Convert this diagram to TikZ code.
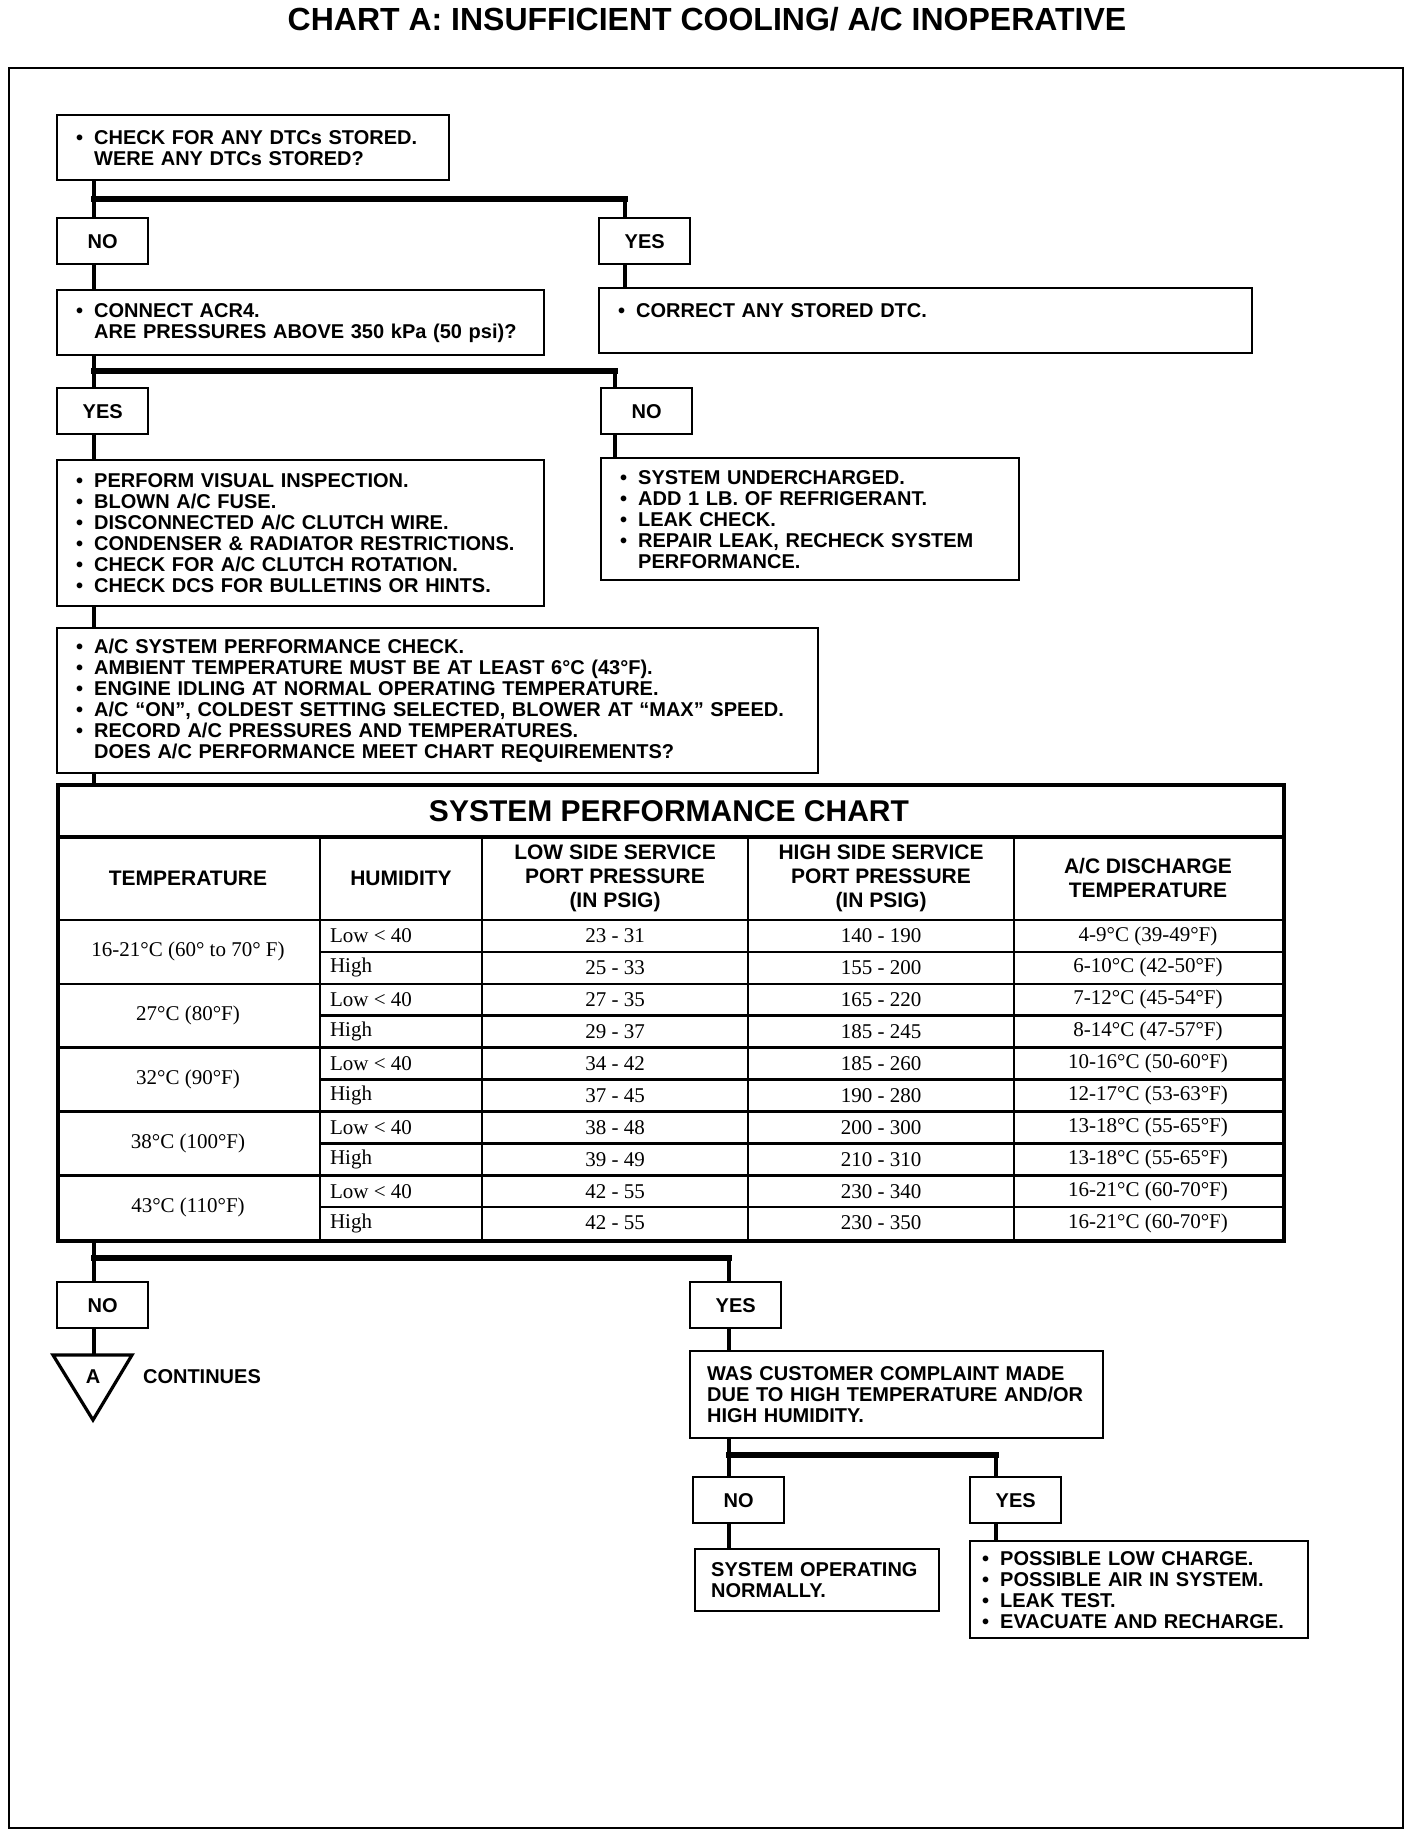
\documentclass[tikz,border=0pt]{standalone}
\usepackage{fontspec}
\setmainfont{Liberation Sans}
\newfontfamily\tabfont{Liberation Serif}
\newcommand{\bl}{\makebox[9pt][l]{\textbullet}}
\newcommand{\ind}{\hspace*{9pt}}
\begin{document}
\begin{tikzpicture}[x=0.5pt,y=-0.5pt,
    flowbox/.style={draw,line width=1.2pt,anchor=north west,align=left,inner xsep=9.5pt,inner ysep=0pt,font=\bfseries\fontsize{10}{10.5}\selectfont},
    answer/.style={draw,line width=1.2pt,anchor=north west,minimum width=45.5pt,minimum height=23pt,inner sep=0pt,font=\bfseries\fontsize{10}{12}\selectfont},
    vline/.style={line width=2pt},
    hline/.style={line width=2.8pt,line cap=rect},
    tabline/.style={line width=1.3pt},
    head/.style={align=center,font=\bfseries\fontsize{10.5}{12}\selectfont},
    cell/.style={font=\tabfont\fontsize{10.5}{12}\selectfont}]
  \useasboundingbox (0,0) rectangle (1424,1838);
  \node[font=\bfseries\fontsize{16}{18}\selectfont] (title) at (707,19) {CHART A: INSUFFICIENT COOLING/ A/C INOPERATIVE};
  \draw[line width=1.1pt] (9,68) rectangle (1403,1828);
  \node[flowbox,text width=177pt,minimum height=32.5pt] (dtc) at (56,114) {\bl CHECK FOR ANY DTCs STORED.\\\ind WERE ANY DTCs STORED?};
  \node[answer] (dtcno) at (56,217) {NO};
  \node[answer] (dtcyes) at (598,217) {YES};
  \node[flowbox,text width=224.5pt,minimum height=32.5pt] (acr) at (56,289) {\bl CONNECT ACR4.\\\ind ARE PRESSURES ABOVE 350 kPa (50 psi)?};
  \node[flowbox,text width=307.5pt,minimum height=32.5pt] (fixdtc) at (598,287) {\bl CORRECT ANY STORED DTC.\\\mbox{}};
  \node[answer] (acryes) at (56,387) {YES};
  \node[answer] (acrno) at (600,387) {NO};
  \node[flowbox,text width=224.5pt,minimum height=73pt] (visual) at (56,459) {\bl PERFORM VISUAL INSPECTION.\\\bl BLOWN A/C FUSE.\\\bl DISCONNECTED A/C CLUTCH WIRE.\\\bl CONDENSER \& RADIATOR RESTRICTIONS.\\\bl CHECK FOR A/C CLUTCH ROTATION.\\\bl CHECK DCS FOR BULLETINS OR HINTS.};
  \node[flowbox,text width=190pt,minimum height=61pt] (under) at (600,457) {\bl SYSTEM UNDERCHARGED.\\\bl ADD 1 LB. OF REFRIGERANT.\\\bl LEAK CHECK.\\\bl REPAIR LEAK, RECHECK SYSTEM\\\ind PERFORMANCE.};
  \node[flowbox,text width=361.5pt,minimum height=72.5pt] (perf) at (56,627) {\bl A/C SYSTEM PERFORMANCE CHECK.\\\bl AMBIENT TEMPERATURE MUST BE AT LEAST 6°C (43°F).\\\bl ENGINE IDLING AT NORMAL OPERATING TEMPERATURE.\\\bl A/C “ON”, COLDEST SETTING SELECTED, BLOWER AT “MAX” SPEED.\\\bl RECORD A/C PRESSURES AND TEMPERATURES.\\\ind DOES A/C PERFORMANCE MEET CHART REQUIREMENTS?};
  \node[draw,line width=1.8pt,anchor=north west,minimum width=613pt,minimum height=228pt,inner sep=0pt] (table) at (56,783) {};
  \draw[line width=1.8pt] (table.north west) ++(0,54) -- ++(1226,0);
  \draw[tabline] (56,920) -- (1282,920);
  \foreach \x in {320,482,748,1014} \draw[tabline] (\x,837) -- (\x,1239);
  \foreach \y in {983.8,1047.6,1111.4,1175.2} \draw[tabline] (56,\y) -- (1282,\y);
  \foreach \y in {951.9,1015.7,1079.5,1143.3,1207.1} \draw[tabline] (320,\y) -- (1282,\y);
  \node[font=\bfseries\fontsize{15}{18}\selectfont] (chart) at (669,811) {SYSTEM PERFORMANCE CHART};
  \node[head] (hdtemp) at (188,878) {TEMPERATURE};
  \node[head] (hdhum) at (401,878) {HUMIDITY};
  \node[head] (hdlow) at (615,878) {LOW SIDE SERVICE\\PORT PRESSURE\\(IN PSIG)};
  \node[head] (hdhigh) at (881,878) {HIGH SIDE SERVICE\\PORT PRESSURE\\(IN PSIG)};
  \node[head] (hddis) at (1148,878) {A/C DISCHARGE\\TEMPERATURE};
  \foreach \t/\la/\ha/\da/\lb/\hb/\db [count=\i from 0] in {
      16-21°C (60° to 70° F)/23 - 31/140 - 190/4-9°C (39-49°F)/25 - 33/155 - 200/6-10°C (42-50°F),
      27°C (80°F)/27 - 35/165 - 220/7-12°C (45-54°F)/29 - 37/185 - 245/8-14°C (47-57°F),
      32°C (90°F)/34 - 42/185 - 260/10-16°C (50-60°F)/37 - 45/190 - 280/12-17°C (53-63°F),
      38°C (100°F)/38 - 48/200 - 300/13-18°C (55-65°F)/39 - 49/210 - 310/13-18°C (55-65°F),
      43°C (110°F)/42 - 55/230 - 340/16-21°C (60-70°F)/42 - 55/230 - 350/16-21°C (60-70°F)} {
    \node[cell] (tmp\i) at (188,{951.9+\i*63.8}) {\t};
    \node[cell,anchor=west] (huma\i) at (323,{935.95+\i*63.8}) {Low < 40};
    \node[cell,anchor=west] (humb\i) at (323,{967.85+\i*63.8}) {High};
    \node[cell] (lowa\i) at (615,{935.95+\i*63.8}) {\la};
    \node[cell] (lowb\i) at (615,{967.85+\i*63.8}) {\lb};
    \node[cell] (higha\i) at (881,{935.95+\i*63.8}) {\ha};
    \node[cell] (highb\i) at (881,{967.85+\i*63.8}) {\hb};
    \node[cell] (disa\i) at (1148,{935.95+\i*63.8}) {\da};
    \node[cell] (disb\i) at (1148,{967.85+\i*63.8}) {\db};
  }
  \node[answer] (perfno) at (56,1281) {NO};
  \node[answer] (perfyes) at (689,1281) {YES};
  \draw[line width=1.6pt] (53,1355) -- (132,1355) -- (93,1420) -- cycle;
  \coordinate (tri) at (94,1355);
  \node[font=\bfseries\fontsize{10}{12}\selectfont] (tria) at (93,1377) {A};
  \node[anchor=west,font=\bfseries\fontsize{10}{12}\selectfont] (cont) at (136,1377) {CONTINUES};
  \node[flowbox,text width=189.5pt,inner xsep=8.5pt,minimum height=43.5pt] (cust) at (689,1350) {WAS CUSTOMER COMPLAINT MADE\\DUE TO HIGH TEMPERATURE AND/OR\\HIGH HUMIDITY.};
  \node[answer] (custno) at (692,1476) {NO};
  \node[answer] (custyes) at (969,1476) {YES};
  \node[flowbox,text width=106pt,inner xsep=8pt,minimum height=31pt] (normal) at (694,1548) {SYSTEM OPERATING\\NORMALLY.};
  \node[flowbox,text width=157pt,inner xsep=6pt,minimum height=48.5pt] (charge) at (969,1540) {\bl POSSIBLE LOW CHARGE.\\\bl POSSIBLE AIR IN SYSTEM.\\\bl LEAK TEST.\\\bl EVACUATE AND RECHARGE.};
  \coordinate (j1) at (94,199);
  \coordinate (k1) at (625,199);
  \draw[vline] (dtc.south -| j1) -- (dtcno.north -| j1);
  \draw[hline] (j1) -- (k1);
  \draw[vline] (k1) -- (dtcyes.north -| k1);
  \draw[vline] (dtcno.south -| j1) -- (acr.north -| j1);
  \draw[vline] (dtcyes.south -| k1) -- (fixdtc.north -| k1);
  \coordinate (j2) at (94,371);
  \coordinate (k2) at (615,371);
  \draw[vline] (acr.south -| j2) -- (acryes.north -| j2);
  \draw[hline] (j2) -- (k2);
  \draw[vline] (k2) -- (acrno.north -| k2);
  \draw[vline] (acryes.south -| j2) -- (visual.north -| j2);
  \draw[vline] (acrno.south -| k2) -- (under.north -| k2);
  \draw[vline] (visual.south -| j2) -- (perf.north -| j2);
  \draw[vline] (perf.south -| j2) -- (table.north -| j2);
  \coordinate (j3) at (94,1258);
  \coordinate (k3) at (729,1258);
  \draw[vline] (table.south -| j3) -- (perfno.north -| j3);
  \draw[hline] (j3) -- (k3);
  \draw[vline] (k3) -- (perfyes.north -| k3);
  \draw[vline] (perfno.south -| j3) -- (tri);
  \draw[vline] (perfyes.south -| k3) -- (cust.north -| k3);
  \coordinate (j4) at (729,1455);
  \coordinate (k4) at (996,1455);
  \draw[vline] (cust.south -| j4) -- (custno.north -| j4);
  \draw[hline] (j4) -- (k4);
  \draw[vline] (k4) -- (custyes.north -| k4);
  \draw[vline] (custno.south -| j4) -- (normal.north -| j4);
  \draw[vline] (custyes.south -| k4) -- (charge.north -| k4);
\end{tikzpicture}
\end{document}
